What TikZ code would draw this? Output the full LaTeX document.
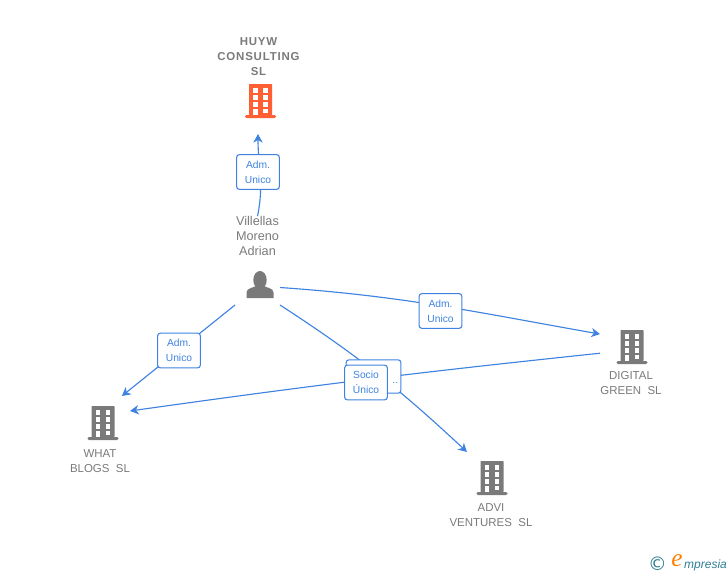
\documentclass[tikz,border=0pt]{standalone}
\usepackage{fontspec}
\setmainfont{Liberation Sans}
\newfontfamily\headfont[LetterSpace=7]{Liberation Sans}
\newfontfamily\logofont{Liberation Serif}
\newfontfamily\markfont{DejaVu Sans}
\usepackage{xcolor}
\usetikzlibrary{arrows.meta}
\definecolor{linkblue}{HTML}{3F83E0}
\definecolor{nodegray}{HTML}{7A7A7A}
\definecolor{hotorange}{HTML}{FF5F33}
\definecolor{logoteal}{HTML}{2F7F94}
\tikzset{
  link/.style={draw=linkblue, line width=0.85pt},
  tolink/.style={link, -{Stealth[length=6.5pt,width=7pt,inset=2pt]}},
  tag/.style={draw=linkblue, fill=white, line width=0.8pt, rounded corners=2pt, text=linkblue, inner sep=0pt,
    minimum width=32pt, minimum height=26pt, align=center, font=\fontsize{7.7}{11.2}\selectfont},
  iconbox/.style={inner sep=0pt, outer sep=0pt},
  nametext/.style={text=nodegray, align=center, inner sep=0pt, font=\fontsize{8.6}{11.2}\selectfont},
  pics/building/.style={code={
    \fill[#1, rounded corners=0.5pt] (-11.5,-17) rectangle (11.5,14);
    \fill[#1, rounded corners=1pt] (-15.5,14) rectangle (15.5,17);
    \foreach \rowy in {-13,-6,1} {
      \fill[white] (-7.5,\rowy) rectangle (-3,\rowy+4.5);
      \fill[white] (2.5,\rowy) rectangle (7,\rowy+4.5);
    }
    \fill[white] (-7.5,7.5) rectangle (-3,14);
    \fill[white] (2.5,7.5) rectangle (7,12);
  }},
  pics/personicon/.style={code={
    \fill[nodegray] (0,-5) ellipse (6.7 and 9);
    \fill[nodegray] (-13.5,13) -- (-13.5,7.5) .. controls (-13.5,3) and (-7,3) .. (-3,0.5)
      -- (3,0.5) .. controls (7,3) and (13.5,3) .. (13.5,7.5) -- (13.5,13) -- cycle;
  }}
}

\begin{document}
\begin{tikzpicture}[x=0.75pt,y=-0.75pt]
\useasboundingbox (0,0) rectangle (728,575);

\node[nametext, font=\fontsize{8.6}{11.2}\selectfont\headfont\bfseries] (HuywName) at (258.5,57) {HUYW\\CONSULTING\\SL};
\node[iconbox, minimum width=50pt, minimum height=49.5pt] (HuywIcon) at (258,101) {};
\pic at (260.5,101) {building=hotorange};

\node[nametext, font=\fontsize{9.5}{11.2}\selectfont] (VillellasName) at (257.5,236) {Villellas\\Moreno\\Adrian};
\node[iconbox, minimum width=33.75pt, minimum height=26.25pt] (VillellasIcon) at (257.5,287.5) {};
\pic at (260,285) {personicon};

\node[iconbox, minimum width=48pt, minimum height=28.5pt] (DigitalIcon) at (632,347) {};
\pic at (632,347) {building=nodegray};
\node[nametext] (DigitalName) at (631,383.5) {DIGITAL\\GREEN\ \ SL};

\node[iconbox, minimum width=40.5pt, minimum height=40.5pt] (WhatIcon) at (103,423) {};
\pic at (103,423) {building=nodegray};
\node[nametext] (WhatName) at (100,461.5) {WHAT\\BLOGS\ \ SL};

\node[iconbox, minimum width=37.5pt, minimum height=39pt] (AdviIcon) at (492,478) {};
\pic at (492,478) {building=nodegray};
\node[nametext] (AdviName) at (491,515.5) {ADVI\\VENTURES\ \ SL};

\draw[tolink] (VillellasName.north) to[out=78,in=-90] (HuywIcon.south);
\draw[tolink] (VillellasIcon.east) to[out=-4,in=170] (DigitalIcon.158);
\draw[tolink] (VillellasIcon.south west) -- (WhatIcon.55);
\draw[tolink] (VillellasIcon.south east) to[out=-33,in=137] (AdviIcon.north west);
\draw[tolink] (DigitalIcon.191) to[bend right=1] (WhatIcon.24);

\node[tag] (AdmHuyw) at (258,172) {Adm.\\Unico};
\node[tag] (AdmDigital) at (440.5,311) {Adm.\\Unico};
\node[tag] (AdmWhat) at (179,350.5) {Adm.\\Unico};
\node[tag, minimum width=41pt, minimum height=25pt, text width=37pt, align=right] (AdmAdvi) at (373.5,376.5) {\\..};
\node[tag] (SocioWhat) at (366,382.5) {Socio\\Único};

\node[text=logoteal, inner sep=0pt, font=\fontsize{14}{14}\selectfont\markfont] (LogoMark) at (657.5,564) {©};
\node[text=orange, inner sep=0pt, font=\fontsize{19}{19}\selectfont\logofont\itshape] (LogoE) at (677,561) {e};
\node[text=logoteal, inner sep=0pt, font=\fontsize{9}{10}\selectfont\itshape] (LogoText) at (705.5,565) {mpresia};
\end{tikzpicture}
\end{document}
